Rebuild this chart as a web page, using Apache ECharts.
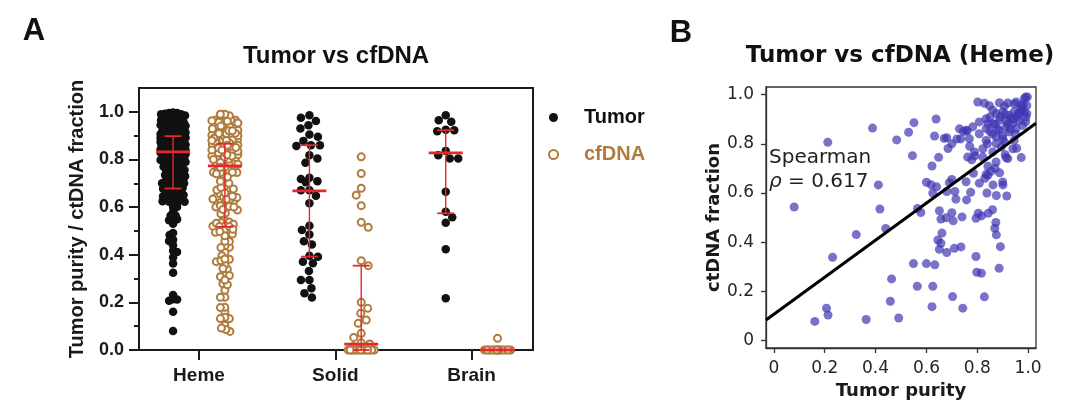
<!DOCTYPE html>
<html><head><meta charset="utf-8">
<script src="https://cdn.jsdelivr.net/npm/echarts@6/dist/echarts.min.js"></script>
<style>html,body{margin:0;padding:0;background:#fff}#c{width:1080px;height:414px}</style>
</head><body><div id="c"></div>
<script>
// ---------------- DATA ----------------
const categories = ['Heme', 'Solid', 'Brain'];
// Heme pairs (panel B scatter; panel A Heme columns are their marginals)
const hemeTumor = [0.080,0.161,0.207,0.213,0.212,0.231,0.324,0.363,0.388,0.411,0.417,0.440,0.458,0.463,0.483,0.491,0.530,0.551,0.545,0.549,
0.564,0.565,0.578,0.600,0.622,0.625,0.633,0.638,0.632,0.600,0.618,0.640,0.625,0.622,0.648,0.670,0.680,0.685,0.651,0.677,
0.657,0.661,0.645,0.657,0.651,0.680,0.710,0.736,0.703,0.743,0.680,0.712,0.716,0.758,0.774,0.756,0.700,0.785,0.778,0.791,
0.700,0.740,0.705,0.690,0.720,0.745,0.760,0.735,0.770,0.700,0.795,0.798,0.816,0.828,0.886,0.891,0.875,0.869,0.873,0.860,
0.843,0.804,0.817,0.795,0.916,0.862,0.901,0.830,0.842,0.855,0.888,0.870,0.808,0.838,0.875,0.900,0.913,0.910,0.940,0.973,
0.955,0.842,0.835,0.802,0.828,0.848,0.887,0.920,0.953,0.985,0.995,0.978,0.965,0.945,0.925,0.900,0.874,0.850,0.835,0.808,
0.782,0.756,0.730,0.769,0.808,0.835,0.861,0.887,0.913,0.940,0.965,0.992,0.995,0.887,0.874,0.900,0.925,0.953,0.978,0.874,
0.907,0.945,0.835,0.822,0.861,0.894,0.762,0.789,0.822,0.874,0.920,0.997,0.990,0.972,0.946,0.907,0.861,0.932,0.958,0.985,
0.990,0.842,0.913,0.860,0.880,0.900,0.920,0.940,0.960,0.970,0.890,0.870,0.850,0.930,0.950,0.910,0.980,0.840];
const hemeCfdna = [0.543,0.078,0.132,0.104,0.806,0.339,0.431,0.086,0.864,0.633,0.535,0.456,0.160,0.251,0.816,0.092,0.847,0.886,0.752,0.313,
0.221,0.537,0.521,0.313,0.138,0.221,0.308,0.901,0.832,0.644,0.634,0.625,0.600,0.710,0.745,0.822,0.825,0.781,0.528,0.499,
0.494,0.437,0.409,0.396,0.371,0.358,0.375,0.381,0.179,0.132,0.606,0.606,0.575,0.572,0.603,0.646,0.655,0.680,0.735,0.751,
0.520,0.503,0.487,0.642,0.820,0.850,0.852,0.820,0.790,0.800,0.342,0.278,0.274,0.178,0.294,0.382,0.430,0.457,0.480,0.532,
0.518,0.518,0.507,0.497,0.588,0.633,0.633,0.660,0.672,0.689,0.682,0.700,0.640,0.600,0.590,0.645,0.744,0.756,0.780,0.744,
0.782,0.709,0.676,0.970,0.965,0.955,0.967,0.966,0.970,0.984,0.956,0.943,0.923,0.930,0.916,0.930,0.923,0.909,0.902,0.889,
0.869,0.855,0.861,0.821,0.841,0.862,0.882,0.895,0.895,0.882,0.895,0.909,0.923,0.855,0.828,0.834,0.848,0.862,0.875,0.801,
0.808,0.814,0.814,0.780,0.767,0.787,0.746,0.767,0.746,0.726,0.740,0.990,0.990,0.956,0.963,0.953,0.936,0.903,0.909,0.929,
0.889,0.882,0.868,0.840,0.860,0.820,0.880,0.900,0.920,0.940,0.910,0.880,0.850,0.860,0.840,0.920,0.960,0.800];
const solidTumor = [0.986,0.975,0.961,0.944,0.930,0.905,0.895,0.878,0.860,0.860,0.857,0.818,0.804,0.786,0.723,0.718,0.709,0.704,0.671,0.671,
0.648,0.616,0.522,0.504,0.485,0.457,0.443,0.396,0.392,0.371,0.364,0.332,0.294,0.294,0.259,0.238,0.220];
const solidCfdna = [0.811,0.741,0.679,0.650,0.606,0.536,0.515,0.375,0.354,0.200,0.175,0.154,0.126,0.112,0.070,0.053,0.030,0.025,0.015,0.010,
0,0,0,0,0,0,0,0,0,0,0,0,0,0,0];
const brainTumor = [0.986,0.965,0.958,0.925,0.923,0.918,0.836,0.818,0.804,0.804,0.664,0.580,0.557,0.534,0.423,0.217];
const brainCfdna = [0.049,0,0,0,0,0,0,0,0,0,0,0,0,0,0,0];
// median / quartiles per column (Heme T, Heme cf, Solid T, Solid cf, Brain T, Brain cf)
const groupMedian = [0.832,0.773,0.668,0.025,0.828,0];
const groupQ1 = [0.678,0.517,0.392,0,0.574,0];
const groupQ3 = [0.898,0.866,0.860,0.354,0.923,0];
const yTicksA = [0,0.2,0.4,0.6,0.8,1.0];
const yMinorA = [0.1,0.3,0.5,0.7,0.9];
const ticksB = [0,0.2,0.4,0.6,0.8,1.0];
const spearmanRho = 0.617;
const fitLine = [0.107, 0.753]; // intercept, slope

// ---------------- LAYOUT ----------------
const gA = {left:139, top:88, width:394, height:262};
const xMinA = 0.56, xMaxA = 3.45, yMinA = 0, yMaxA = 1.1;
const gB = {left:766, top:87, width:270, height:261};
const xMinB = -0.031, xMaxB = 1.031, yMinB = -0.03, yMaxB = 1.031;
const colOff = 0.19;
const brown = '#B07C3E';
const red = '#E8262B';
const pxX = gA.width/(xMaxA-xMinA), pxY = gA.height/(yMaxA-yMinA);

function swarm(values, center, d, maxOff) {
  const idx = values.map((v,i)=>i).sort((a,b)=>values[b]-values[a]);
  const placed = [], out = new Array(values.length);
  let flip = 1;
  for (const i of idx) {
    const py = values[i]*pxY;
    const cands = [0];
    for (let k=1;k<=maxOff*2;k++) { cands.push(flip*k/2, -flip*k/2); }
    flip = -flip;
    let best = 0, bestScore = -1;
    for (const c of cands) {
      let m = Infinity;
      for (const p of placed) {
        const dy = p.y-py; if (Math.abs(dy)>=d) continue;
        const dd = Math.hypot(p.x-c, dy); if (dd<m) m = dd;
      }
      if (m>=d) { best=c; break; }
      if (m>bestScore+1e-9) { bestScore=m; best=c; }
    }
    placed.push({x:best, y:py});
    out[i] = [center + best/pxX, values[i]];
  }
  return out;
}
const tumorPts = [].concat(
  swarm(hemeTumor, 1-colOff, 3.9, 12.5),
  swarm(solidTumor, 2-colOff, 8.5, 13),
  swarm(brainTumor, 3-colOff, 8.5, 13));
const cfPts = [].concat(
  swarm(hemeCfdna, 1+colOff, 4.3, 13),
  swarm(solidCfdna, 2+colOff, 8.5, 13),
  swarm(brainCfdna, 3+colOff, 8.5, 13));
const centers = [1-colOff,1+colOff,2-colOff,2+colOff,3-colOff,3+colOff];
const barData = centers.map((c,i)=>[c, groupMedian[i], groupQ1[i], groupQ3[i]]);
const scatterB = hemeTumor.map((t,i)=>[t, hemeCfdna[i]]);
const fitData = [[xMinB, fitLine[0]+fitLine[1]*xMinB],[xMaxB, fitLine[0]+fitLine[1]*xMaxB]];

const fA = '"Liberation Sans", Arial, sans-serif';
const fB = '"DejaVu Sans", sans-serif';
const dark = '#1a1a1a';

const chart = echarts.init(document.getElementById('c'), null, {renderer:'canvas'});
chart.setOption({
  animation:false,
  backgroundColor:'#fff',
  grid:[
    Object.assign({show:true, borderColor:dark, borderWidth:2, containLabel:false}, gA),
    Object.assign({show:true, borderColor:'#333', borderWidth:1.3, containLabel:false}, gB)
  ],
  xAxis:[
    {type:'value', gridIndex:0, min:xMinA, max:xMaxA, position:'bottom',
     axisLine:{show:true, onZero:false, lineStyle:{color:dark, width:2}},
     axisTick:{show:true, customValues:[1,2,3], length:10, lineStyle:{color:dark, width:2}},
     axisLabel:{customValues:[1,2,3], formatter:v=>categories[Math.round(v)-1], margin:16,
       fontFamily:fA, fontWeight:'bold', fontSize:19, color:dark},
     splitLine:{show:false}},
    {type:'value', gridIndex:1, min:xMinB, max:xMaxB, position:'bottom',
     name:'Tumor purity', nameLocation:'middle', nameGap:27,
     nameTextStyle:{fontFamily:fB, fontWeight:'bold', fontSize:18, color:dark},
     axisLine:{show:true, onZero:false, lineStyle:{color:'#333', width:1.3}},
     axisTick:{show:true, customValues:ticksB, length:5, lineStyle:{color:'#333', width:1.3}},
     axisLabel:{customValues:ticksB, formatter:v=>v===0?'0':v.toFixed(1), margin:12,
       fontFamily:fB, fontSize:17, color:'#262626'},
     splitLine:{show:false}}
  ],
  yAxis:[
    {type:'value', gridIndex:0, min:yMinA, max:yMaxA, position:'left',
     name:'Tumor purity / ctDNA fraction', nameLocation:'middle', nameGap:52,
     nameTextStyle:{fontFamily:fA, fontWeight:'bold', fontSize:20, color:dark},
     axisLine:{show:true, onZero:false, lineStyle:{color:dark, width:2}},
     axisTick:{show:true, customValues:yTicksA, length:10, lineStyle:{color:dark, width:2}},
     axisLabel:{customValues:yTicksA, formatter:v=>v.toFixed(1), margin:15,
       fontFamily:fA, fontWeight:'bold', fontSize:18, color:dark},
     splitLine:{show:false}},
    {type:'value', gridIndex:0, min:yMinA, max:yMaxA, position:'left',
     axisLine:{show:false, onZero:false},
     axisTick:{show:true, customValues:yMinorA, length:5, lineStyle:{color:dark, width:2}},
     axisLabel:{show:false}, splitLine:{show:false}},
    {type:'value', gridIndex:1, min:yMinB, max:yMaxB, position:'left',
     name:'ctDNA fraction', nameLocation:'middle', nameGap:42,
     nameTextStyle:{fontFamily:fB, fontWeight:'bold', fontSize:18, color:dark},
     axisLine:{show:true, onZero:false, lineStyle:{color:'#333', width:1.3}},
     axisTick:{show:true, customValues:ticksB, length:5, lineStyle:{color:'#333', width:1.3}},
     axisLabel:{customValues:ticksB, formatter:v=>v===0?'0':v.toFixed(1), margin:12,
       fontFamily:fB, fontSize:17, color:'#262626'},
     splitLine:{show:false}}
  ],
  legend:{
    orient:'vertical', left:543, top:102, itemWidth:9, itemHeight:9, itemGap:16,
    selectedMode:false,
    textStyle:{fontFamily:fA, fontWeight:'bold', fontSize:20, padding:[0,0,0,21], lineHeight:21},
    data:[{name:'Tumor', textStyle:{color:'#111'}}, {name:'cfDNA', textStyle:{color:brown}}]
  },
  series:[
    {name:'Tumor', type:'scatter', xAxisIndex:0, yAxisIndex:0, data:tumorPts, symbol:'circle',
     symbolSize:8.5, itemStyle:{color:'#111', opacity:1}, z:2},
    {name:'cfDNA', type:'scatter', xAxisIndex:0, yAxisIndex:0, data:cfPts, symbol:'circle',
     symbolSize:7, itemStyle:{color:'#fff', borderColor:brown, borderWidth:2, opacity:1}, z:2},
    {name:'stats', type:'custom', xAxisIndex:0, yAxisIndex:0, data:barData, z:4,
     renderItem:function(params, api){
       const x=api.value(0);
       const pm=api.coord([x, api.value(1)]), p1=api.coord([x, api.value(2)]), p3=api.coord([x, api.value(3)]);
       return {type:'group', children:[
         {type:'line', shape:{x1:pm[0],y1:p1[1],x2:pm[0],y2:p3[1]}, style:{stroke:red,lineWidth:1.4}},
         {type:'line', shape:{x1:pm[0]-8.5,y1:p1[1],x2:pm[0]+8.5,y2:p1[1]}, style:{stroke:red,lineWidth:1.8}},
         {type:'line', shape:{x1:pm[0]-8.5,y1:p3[1],x2:pm[0]+8.5,y2:p3[1]}, style:{stroke:red,lineWidth:1.8}},
         {type:'line', shape:{x1:pm[0]-17,y1:pm[1],x2:pm[0]+17,y2:pm[1]}, style:{stroke:red,lineWidth:2.8}}
       ]};
     }},
    {name:'Heme pairs', type:'scatter', xAxisIndex:1, yAxisIndex:2, data:scatterB, symbol:'circle',
     symbolSize:9, itemStyle:{color:'rgb(62,54,178)', opacity:0.7}, z:2},
    {name:'fit', type:'line', xAxisIndex:1, yAxisIndex:2, data:fitData, symbol:'none',
     lineStyle:{color:'#000', width:3}, z:3, clip:true}
  ],
  graphic:[
    {type:'text', x:34, y:31, style:{text:'A', font:'bold 31px '+fA, fill:'#111', textAlign:'center', textVerticalAlign:'middle', align:'center', verticalAlign:'middle'}},
    {type:'text', x:681, y:33, style:{text:'B', font:'bold 31px '+fA, fill:'#111', textAlign:'center', textVerticalAlign:'middle', align:'center', verticalAlign:'middle'}},
    {type:'text', x:336, y:56, style:{text:'Tumor vs cfDNA', font:'bold 24px '+fA, fill:'#111', textAlign:'center', textVerticalAlign:'middle', align:'center', verticalAlign:'middle'}},
    {type:'text', x:900, y:56, style:{text:'Tumor vs cfDNA (Heme)', font:'bold 23px '+fB, fill:'#111', textAlign:'center', textVerticalAlign:'middle', align:'center', verticalAlign:'middle'}},
    {type:'text', x:769, y:158, z:10, style:{text:'Spearman', font:'20px '+fB, fill:'#222', textVerticalAlign:'middle', verticalAlign:'middle'}},
    {type:'text', x:769, y:182, z:10, style:{text:'{i|ρ} = '+spearmanRho.toFixed(3), font:'20px '+fB, fill:'#222', textVerticalAlign:'middle', verticalAlign:'middle',
      rich:{i:{fontStyle:'italic', fontFamily:'DejaVu Sans', fontSize:20, fill:'#222'}}}}
  ]
});
</script></body></html>
